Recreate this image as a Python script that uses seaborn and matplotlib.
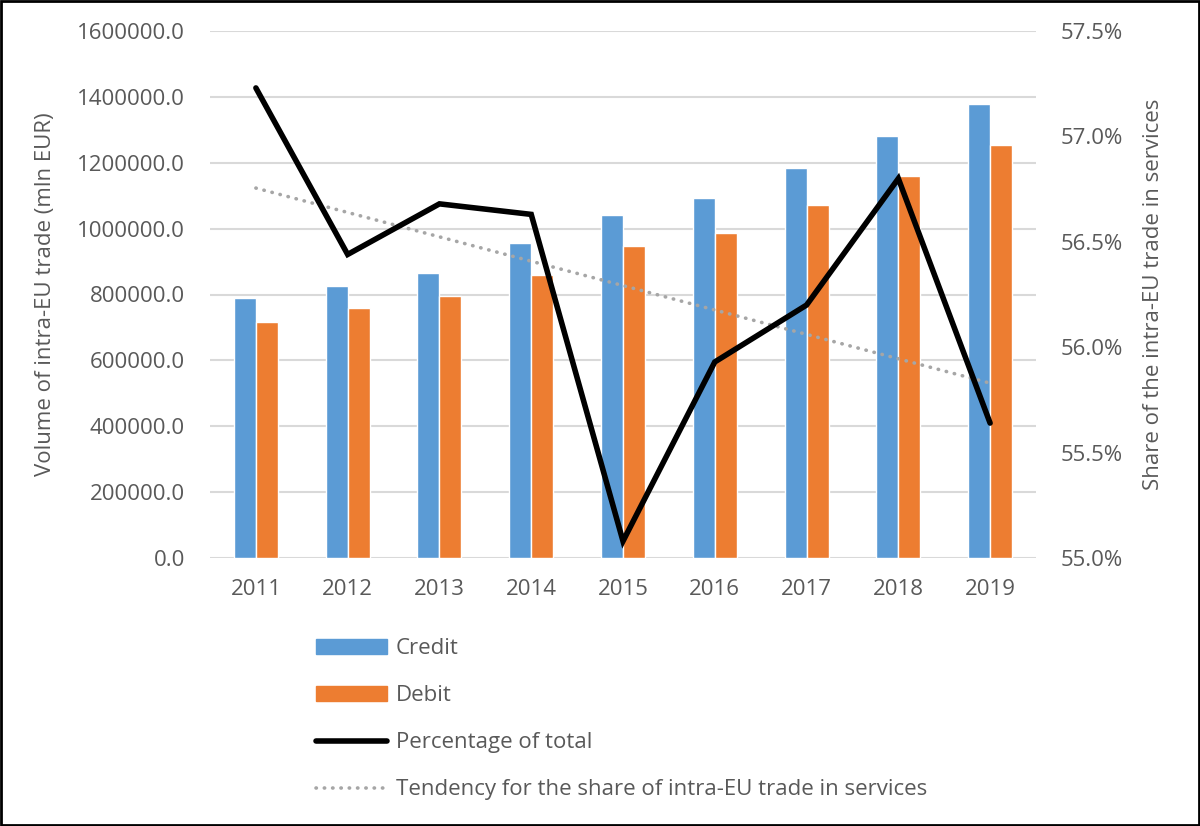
import numpy as np
import pandas as pd
import matplotlib
matplotlib.use("Agg")
import matplotlib.pyplot as plt
import seaborn as sns
from matplotlib.patches import Patch, Rectangle
from matplotlib.lines import Line2D
from matplotlib.ticker import FuncFormatter, MultipleLocator

# values
years = ["2011", "2012", "2013", "2014", "2015", "2016", "2017", "2018", "2019"]
credit = [789000, 826000, 865000, 956000, 1041000, 1093000, 1184000, 1281000, 1378000]
debit = [716000, 759000, 795000, 859000, 947000, 987000, 1072000, 1160000, 1254000]
share_pct = [57.23, 56.44, 56.68, 56.63, 55.08, 55.93, 56.20, 56.80, 55.64]

BLUE = "#5B9BD5"
ORANGE = "#ED7D31"
GREY_TXT = "#595959"
GRID = "#D9D9D9"
TREND = "#A6A6A6"

sns.set_theme(style="white")
plt.rcParams["font.family"] = ["Open Sans", "DejaVu Sans"]
FS = 16

df = pd.DataFrame({
    "year": years * 2,
    "value": credit + debit,
    "kind": ["Credit"] * len(years) + ["Debit"] * len(years),
})

fig = plt.figure(figsize=(12, 8.26), dpi=100)
ax = fig.add_axes([210 / 1200, 1 - 558 / 826, (1036 - 210) / 1200, (558 - 31) / 826])

sns.barplot(data=df, x="year", y="value", hue="kind", palette=[BLUE, ORANGE],
            width=0.48, gap=0, saturation=1, ax=ax, legend=False, zorder=2)
ax.set_xlim(-0.5, len(years) - 0.5)
ax.set_ylim(0, 1600000)
ax.yaxis.set_major_locator(MultipleLocator(200000))
ax.yaxis.set_major_formatter(FuncFormatter(lambda v, p: f"{v:.1f}"))
ax.grid(axis="y", color=GRID, linewidth=1.5, zorder=0)
ax.set_axisbelow(True)
ax.set_xlabel("")
ax.set_ylabel("Volume of intra-EU trade (mln EUR)", fontsize=FS, color=GREY_TXT, labelpad=15)
ax.tick_params(axis="both", length=0, labelsize=FS, labelcolor=GREY_TXT)
ax.tick_params(axis="y", pad=18)
ax.tick_params(axis="x", pad=15)
for s in ax.spines.values():
    s.set_visible(False)

# share line + linear tendency on the secondary axis
ax2 = ax.twinx()
xpos = np.arange(len(years))
slope, icpt = np.polyfit(xpos, share_pct, 1)
trend = slope * xpos + icpt
sns.lineplot(x=xpos, y=trend, ax=ax2, color=TREND, linewidth=2.6,
             linestyle=(0, (0.1, 2.2)), dash_capstyle="round", zorder=3)
sns.lineplot(x=xpos, y=share_pct, ax=ax2, color="black", linewidth=4, zorder=4,
             solid_joinstyle="miter")
ax2.set_ylim(55.0, 57.5)
ax2.yaxis.set_major_locator(MultipleLocator(0.5))
ax2.yaxis.set_major_formatter(FuncFormatter(lambda v, p: f"{v:.1f}%"))
ax2.set_ylabel("Share of the intra-EU trade in services", fontsize=FS, color=GREY_TXT, labelpad=14)
ax2.tick_params(axis="y", length=0, labelsize=FS, labelcolor=GREY_TXT, pad=18)
for s in ax2.spines.values():
    s.set_visible(False)
ax2.grid(False)

handles = [
    Patch(facecolor=BLUE, edgecolor=BLUE),
    Patch(facecolor=ORANGE, edgecolor=ORANGE),
    Line2D([], [], color="black", linewidth=4, solid_capstyle="round"),
    Line2D([], [], color=TREND, linewidth=2.6, linestyle=(0, (0.1, 2.2)), dash_capstyle="round"),
]
labels = ["Credit", "Debit", "Percentage of total",
          "Tendency for the share of intra-EU trade in services"]
leg = fig.legend(handles, labels, loc="upper left", bbox_to_anchor=(305 / 1200, 1 - 627 / 826),
                 frameon=False, fontsize=FS, handlelength=3.2, handleheight=0.65,
                 handletextpad=0.4, labelspacing=1.17, borderpad=0, labelcolor=GREY_TXT)

fig.add_artist(Rectangle((0.001, 0.001), 0.998, 0.998, transform=fig.transFigure,
                         fill=False, edgecolor="black", linewidth=2))

fig.savefig("out.png", dpi=100)
